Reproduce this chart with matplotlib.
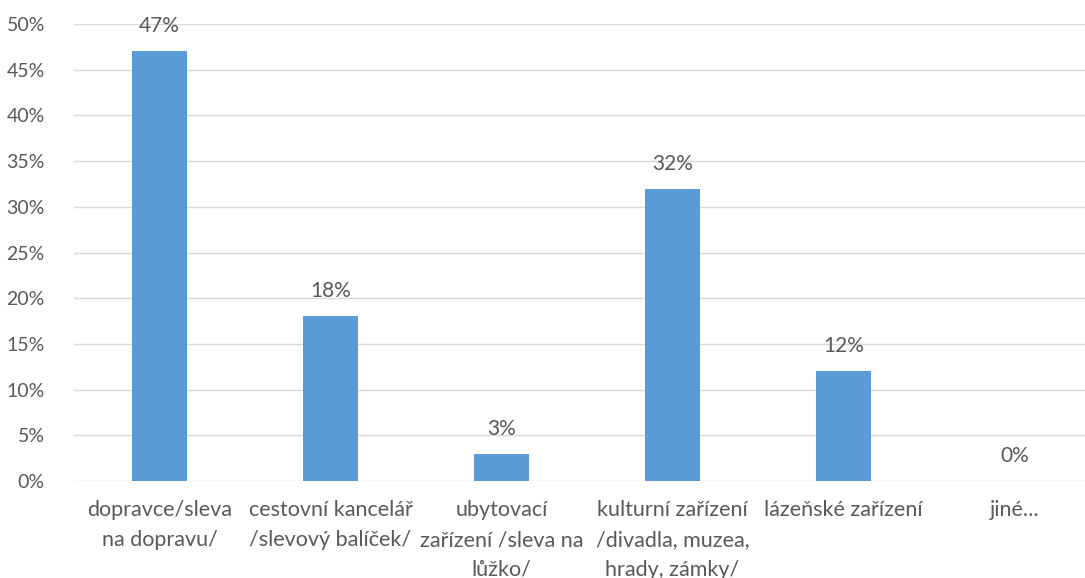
import matplotlib
matplotlib.use("Agg")
import matplotlib.pyplot as plt
from matplotlib.ticker import MultipleLocator, FuncFormatter

categories = ["dopravce/sleva\nna dopravu/", "cestovní kancelář\n/slevový balíček/",
              "ubytovací\nzařízení /sleva na\nlůžko/", "kulturní zařízení\n/divadla, muzea,\nhrady, zámky/",
              "lázeňské zařízení", "jiné..."]
values = [47, 18, 3, 32, 12, 0]

plt.rcParams['font.family'] = ['Lato', 'DejaVu Sans']
W, H = 1085, 578
fig = plt.figure(figsize=(W/100, H/100), dpi=100)
ax = fig.add_axes([74/W, 97/H, (W-74)/W, (481-24)/H])

gray = '#595959'
x = list(range(len(categories)))
ax.bar(x, values, width=0.32, color='#5B9BD5', zorder=3)
for xi, v in zip(x, values):
    ax.annotate(f"{v}%", (xi, v), xytext=(0, 18), textcoords='offset points',
                ha='center', va='center', fontsize=15, color=gray)

ax.set_ylim(0, 50)
ax.set_xlim(-0.5, 5.5 - 15/171)
ax.yaxis.set_major_locator(MultipleLocator(5))
ax.yaxis.set_major_formatter(FuncFormatter(lambda v, p: f"{int(v)}%"))
ax.grid(axis='y', color='#d9d9d9', linewidth=1, zorder=0)
for s in ax.spines.values():
    s.set_visible(False)
ax.tick_params(axis='y', length=0, labelsize=14, labelcolor=gray, pad=21)
ax.set_xticks(x)
ax.set_xticklabels(categories, linespacing=1.6, va='top')
ax.tick_params(axis='x', length=0, labelsize=15.5, labelcolor=gray, pad=14)

fig.savefig("out.png", dpi=100)
